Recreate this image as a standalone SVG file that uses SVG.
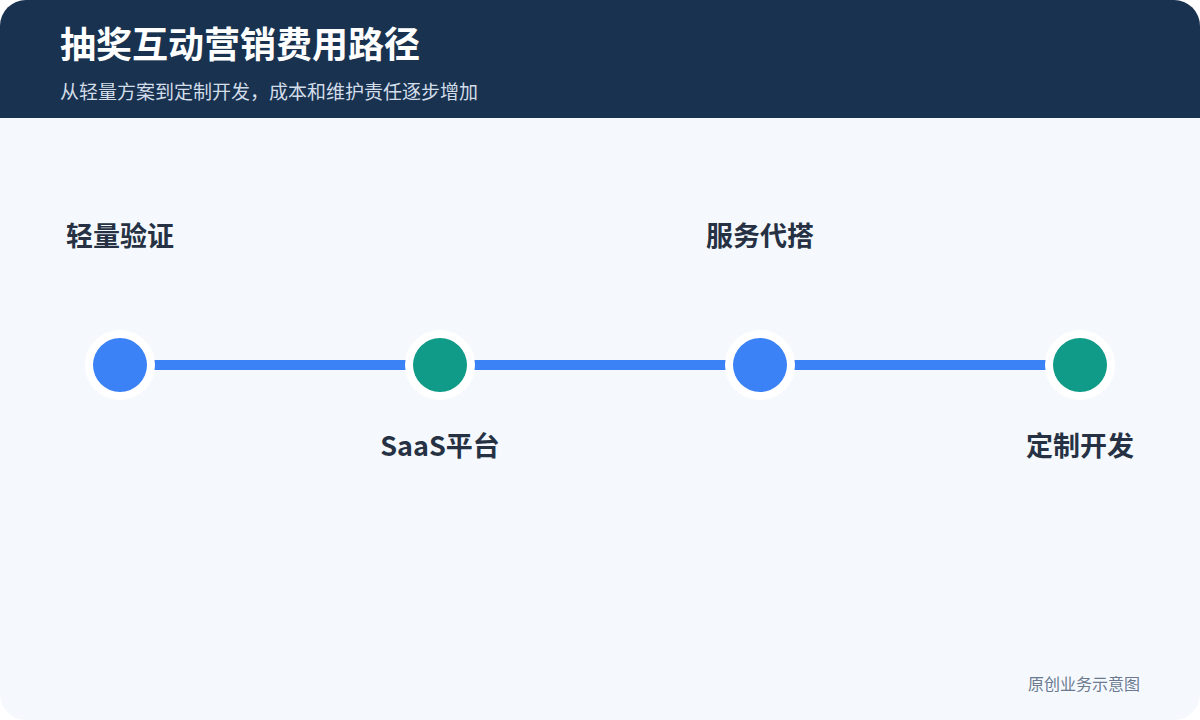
<svg xmlns="http://www.w3.org/2000/svg" width="1200" height="720" viewBox="0 0 1200 720">
<style>
.cjk{font-family:"Noto Sans CJK SC","Noto Sans",sans-serif}
.lbl{font-size:27px;font-weight:700;fill:#263244;text-anchor:middle}
.ring{fill:#ffffff}
.blue{fill:#3b82f6}
.green{fill:#0f9b87}
</style>
<defs>
<clipPath id="page"><rect x="0" y="0" width="1200" height="720" rx="26"/></clipPath>
</defs>
<rect width="1200" height="720" fill="#ffffff"/>
<g clip-path="url(#page)">
<rect x="0" y="0" width="1200" height="720" fill="#f5f9fe"/>
<rect x="0" y="0" width="1200" height="118" fill="#18324f"/>
</g>
<text class="cjk" x="60" y="58" font-size="36" font-weight="700" fill="#ffffff">抽奖互动营销费用路径</text>
<text class="cjk" x="60" y="99" font-size="19" fill="#d3dde9">从轻量方案到定制开发，成本和维护责任逐步增加</text>
<g id="connectors">
<line x1="120" y1="365" x2="1080" y2="365" stroke="#3b82f6" stroke-width="10"/>
</g>
<g id="node1">
<circle class="ring" cx="120" cy="365" r="35"/>
<circle class="blue" cx="120" cy="365" r="27"/>
<text class="cjk lbl" x="120" y="246">轻量验证</text>
</g>
<g id="node2">
<circle class="ring" cx="440" cy="365" r="35"/>
<circle class="green" cx="440" cy="365" r="27"/>
<text class="cjk lbl" x="440" y="456">SaaS平台</text>
</g>
<g id="node3">
<circle class="ring" cx="760" cy="365" r="35"/>
<circle class="blue" cx="760" cy="365" r="27"/>
<text class="cjk lbl" x="760" y="246">服务代搭</text>
</g>
<g id="node4">
<circle class="ring" cx="1080" cy="365" r="35"/>
<circle class="green" cx="1080" cy="365" r="27"/>
<text class="cjk lbl" x="1080" y="456">定制开发</text>
</g>
<text class="cjk" x="1140" y="690" font-size="16" fill="#6b7a90" text-anchor="end">原创业务示意图</text>
</svg>
